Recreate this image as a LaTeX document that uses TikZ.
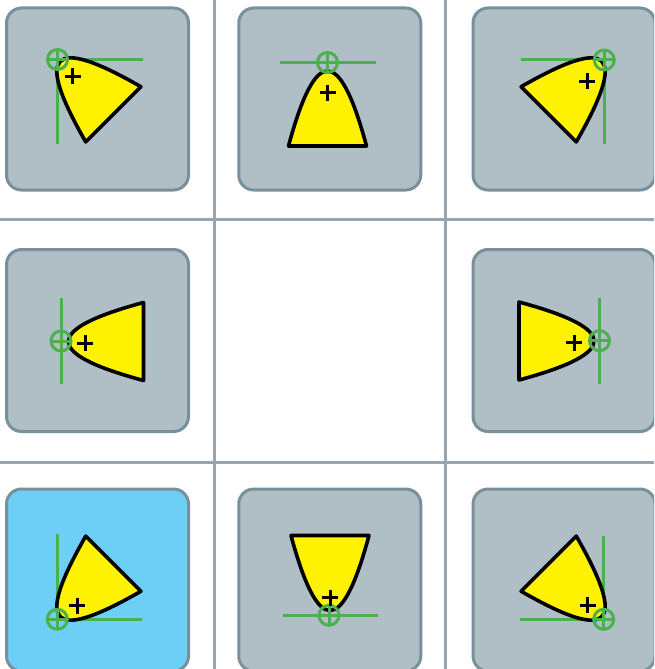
\documentclass[tikz,border=0pt]{standalone}
\usetikzlibrary{calc}
\definecolor{boxfill}{HTML}{B0BEC5}
\definecolor{boxline}{HTML}{78909C}
\definecolor{hifill}{HTML}{6DCFF6}
\definecolor{gridc}{HTML}{98A5AE}
\definecolor{guide}{HTML}{4CAF50}
\definecolor{shapey}{HTML}{FFF200}
\tikzset{
  cellbox/.style={draw=boxline, fill=boxfill, line width=3pt, rounded corners=15pt,
    minimum width=182pt, minimum height=182pt, inner sep=0pt, shape=rectangle},
  hibox/.style={cellbox, fill=hifill},
  gridline/.style={draw=gridc, line width=3pt},
  guideline/.style={draw=guide, line width=3pt},
  blob/.style={draw=black, fill=shapey, line width=3.6pt, line join=round},
  centermark/.style={draw=black, line width=3pt},
}
\newcommand{\blobshape}[3]{%
  \begin{scope}[shift={(#1,#2)}, rotate=#3]
    \draw[blob] (-39,74) .. controls (-12,-26) and (12,-26) .. (39,74) -- cycle;
  \end{scope}}
\newcommand{\anchormark}[1]{%
  \draw[guideline] (#1) circle[radius=10pt];
  \draw[guideline] ($(#1)+(-10,0)$) -- ($(#1)+(10,0)$) ($(#1)+(0,-10)$) -- ($(#1)+(0,10)$);}
\newcommand{\centerplus}[2]{%
  \draw[centermark] (#1-8,#2) -- (#1+8,#2) (#1,#2-8) -- (#1,#2+8);}
\begin{document}
\begin{tikzpicture}[x=1pt, y=-1pt]
\useasboundingbox (0,0) rectangle (654,669);
\clip (0,0) rectangle (654,669);
% grid
\coordinate (gv1t) at (214,0); \coordinate (gv1b) at (214,669);
\coordinate (gv2t) at (445,0); \coordinate (gv2b) at (445,669);
\coordinate (gh1l) at (0,219); \coordinate (gh1r) at (654,219);
\coordinate (gh2l) at (0,462); \coordinate (gh2r) at (654,462);
\draw[gridline] (gv1t) -- (gv1b) (gv2t) -- (gv2b) (gh1l) -- (gh1r) (gh2l) -- (gh2r);
% boxes
\node[cellbox] (c1) at (97.5,99) {};
\node[cellbox] (c2) at (329.75,99) {};
\node[cellbox] (c3) at (564,99) {};
\node[cellbox] (c4) at (97.5,340.5) {};
\node[cellbox] (c6) at (564,340.5) {};
\node[hibox]   (c7) at (97.5,580) {};
\node[cellbox] (c8) at (329.75,580) {};
\node[cellbox] (c9) at (564,580) {};
% anchors
\coordinate (a1) at (57.5,59.5);
\coordinate (a2) at (327.5,62.5);
\coordinate (a3) at (604.3,60);
\coordinate (a4) at (61,341);
\coordinate (a6) at (599.5,340.7);
\coordinate (a7) at (57.3,619.3);
\coordinate (a8) at (329,615.3);
\coordinate (a9) at (603.7,619.3);
% guide lines
\draw[guideline] (a1) -- (143,59.5) (a1) -- (57.5,143.5);
\draw[guideline] (280,62.5) -- (376,62.5);
\draw[guideline] (521,60) -- (a3) -- (604.3,143.5);
\draw[guideline] (61,298) -- (61,384);
\draw[guideline] (599.5,297.5) -- (599.5,383.5);
\draw[guideline] (57.3,534) -- (a7) -- (141.7,619.3);
\draw[guideline] (283.3,615.3) -- (377.7,615.3);
\draw[guideline] (603.7,536) -- (a9) -- (520,619.3);
% shapes
\blobshape{61}{62}{45}
\blobshape{327.5}{72}{0}
\blobshape{601}{62}{-45}
\blobshape{69.5}{341.5}{90}
\blobshape{593}{341}{-90}
\blobshape{61}{616}{135}
\blobshape{330}{609.5}{180}
\blobshape{601}{616}{-135}
% anchor marks
\anchormark{a1}
\anchormark{a2}
\anchormark{a3}
\anchormark{a4}
\anchormark{a6}
\anchormark{a7}
\anchormark{a8}
\anchormark{a9}
% centre marks
\centerplus{72.5}{76}
\centerplus{327.5}{92.5}
\centerplus{587}{81}
\centerplus{85}{343}
\centerplus{574}{342.5}
\centerplus{77.3}{605.5}
\centerplus{330}{597.7}
\centerplus{587.7}{605}
\end{tikzpicture}
\end{document}
